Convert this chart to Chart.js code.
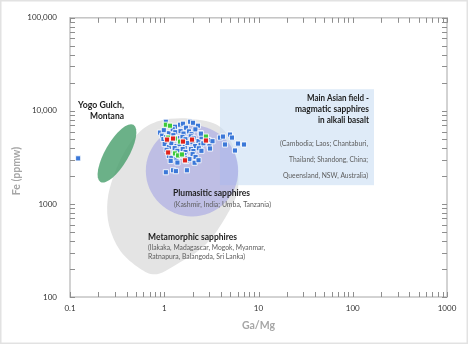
<!DOCTYPE html>
<html>
<head>
<meta charset="utf-8">
<script src="https://cdn.jsdelivr.net/npm/chart.js@4.4.0/dist/chart.umd.min.js"></script>
<style>
  html, body { margin: 0; padding: 0; background: #fff; }
  canvas { display: block; }
</style>
</head>
<body>
<canvas id="sapphireChart" width="468" height="344"></canvas>
<script>
// Sapphire samples: Ga/Mg ratio vs Fe (ppmw)
const blueGaMg = [1.04, 1.47, 1.58, 1.88, 2.02, 2.28, 1.30, 1.70,
    0.90, 0.95, 0.99, 1.12, 1.23, 1.31, 1.49, 1.60, 1.83, 1.95, 2.14, 2.42,
    0.98, 1.05, 1.17, 1.25, 1.38, 1.56, 1.68, 1.91, 2.05, 2.31, 2.49, 2.95,
    1.01, 1.12, 1.19, 1.35, 1.45, 1.65, 1.76, 1.99, 2.13, 2.43, 2.60, 3.02, 3.25,
    1.06, 1.13, 1.29, 1.38, 1.57, 1.68, 1.92, 2.04, 2.33, 2.48,
    1.12, 1.19, 1.35, 1.45, 1.64, 1.77, 2.00, 2.15,
    1.17, 1.38, 1.72, 1.85, 2.10, 2.31,
    1.04, 1.24, 1.33, 1.74,
    3.90, 4.20, 4.98, 5.23, 6.06, 7.02, 4.41, 5.63, 2.45, 3.06,
    0.122];
const blueFe = [7640, 7100, 7280, 7640, 7450, 6930, 6760, 6590,
    5840, 5420, 6200, 5750, 6350, 5900, 6050, 5700, 6020, 5620, 6330, 5780,
    4980, 5230, 4760, 5480, 5100, 5250, 4960, 5330, 5080, 4740, 5210, 4870,
    4400, 4080, 4500, 4200, 4380, 4100, 4520, 4600, 4190, 4320, 4480, 4200, 4720,
    3810, 3620, 3980, 3720, 3890, 3620, 3880, 3700, 3960, 3720,
    3280, 3130, 3060, 3270, 3350, 3120, 3430, 3200,
    2900, 2780, 2890, 3030, 2770, 2950,
    2190, 2300, 2250, 2300,
    5160, 5290, 5560, 5160, 4450, 4350, 4350, 3750, 5690, 3940,
    3090];
const redGaMg = [1.07, 1.24, 1.10, 1.66, 1.97, 2.77, 1.58];
const redFe = [4910, 5040, 3570, 2940, 4910, 4800, 4680];
const greenGaMg = [1.04, 1.15, 1.10, 1.30, 1.47, 1.30, 1.40, 1.54, 2.77];
const greenFe = [7100, 6930, 5160, 5040, 4680, 3490, 3320, 3400, 5290];

const xTickValues = [0.1, 1, 10, 100, 1000];
const xTickLabels = ['0.1', '1', '10', '100', '1000'];
const yTickValues = [100, 1000, 10000, 100000];
const yTickLabels = ['100', '1000', '10,000', '100,000'];

// Fields, given in data units (Ga/Mg, Fe)
const metamorphicOutline = [[5.6, 3660], [6.1, 1550], [5.2, 950], [3.46, 480], [2.39, 324],
    [1.47, 236], [0.84, 176], [0.55, 203], [0.34, 316], [0.26, 583], [0.25, 1080],
    [0.29, 1990], [0.38, 3660], [0.55, 5980], [0.9, 7830], [1.88, 8220], [3.9, 6760]];
const yogoField = { gaMg: 0.315, fe: 3490, major: 0.35, minor: 0.125, tilt: 60 };
const plumasiticField = { gaMg: 1.97, fe: 2270, radius: 0.49 };
const asianField = { fromGaMg: 3.9, toGaMg: 168, fromFe: 1590, toFe: 17100 };

const FONT = 'Lato, "Open Sans", sans-serif';

// Text notes, canvas pixels
const fieldNotes = [
    { text: 'Yogo Gulch,', x: 124, y: 105, align: 'right', bold: true, w: 46 },
    { text: 'Montana', x: 124, y: 116, align: 'right', bold: true, w: 34 },
    { text: 'Main Asian field -', x: 369, y: 98, align: 'right', bold: true, w: 62 },
    { text: 'magmatic sapphires', x: 369, y: 109, align: 'right', bold: true, w: 74 },
    { text: 'in alkali basalt', x: 369, y: 120, align: 'right', bold: true, w: 51 },
    { text: '(Cambodia; Laos; Chantaburi,', x: 368, y: 144, align: 'right', bold: false, w: 88 },
    { text: 'Thailand; Shandong, China;', x: 368, y: 159.5, align: 'right', bold: false, w: 79 },
    { text: 'Queensland, NSW, Australia)', x: 368, y: 175.5, align: 'right', bold: false, w: 85 },
    { text: 'Plumasitic sapphires', x: 173, y: 193.5, align: 'left', bold: true, w: 77 },
    { text: '(Kashmir, India; Umba, Tanzania)', x: 174, y: 204.5, align: 'left', bold: false, w: 97 },
    { text: 'Metamorphic sapphires', x: 148, y: 237, align: 'left', bold: true, w: 89 },
    { text: '(Ilakaka, Madagascar, Mogok, Myanmar,', x: 148, y: 247.5, align: 'left', bold: false, w: 117 },
    { text: 'Ratnapura, Balangoda, Sri Lanka)', x: 148, y: 256.5, align: 'left', bold: false, w: 97 }
];

function toPoints(xs, ys) {
    return xs.map((x, i) => ({ x: x, y: ys[i] }));
}

function smoothClosedPath(ctx, pts) {
    const n = pts.length;
    ctx.moveTo(pts[0][0], pts[0][1]);
    for (let i = 0; i < n; i++) {
        const p0 = pts[(i - 1 + n) % n], p1 = pts[i], p2 = pts[(i + 1) % n], p3 = pts[(i + 2) % n];
        ctx.bezierCurveTo(
            p1[0] + (p2[0] - p0[0]) / 6, p1[1] + (p2[1] - p0[1]) / 6,
            p2[0] - (p3[0] - p1[0]) / 6, p2[1] - (p3[1] - p1[1]) / 6,
            p2[0], p2[1]);
    }
    ctx.closePath();
}

const fieldsPlugin = {
    id: 'fields',
    beforeDraw(chart) {
        const ctx = chart.ctx;
        ctx.save();
        ctx.fillStyle = '#fff';
        ctx.fillRect(0, 0, chart.width, chart.height);
        ctx.strokeStyle = '#e2e2e2';
        ctx.lineWidth = 1.5;
        ctx.strokeRect(0.75, 0.75, chart.width - 1.5, chart.height - 1.5);
        ctx.restore();
    },
    beforeDatasetsDraw(chart) {
        const { ctx, scales: { x, y } } = chart;
        ctx.save();

        // metamorphic field
        const outline = metamorphicOutline.map(p => [x.getPixelForValue(p[0]), y.getPixelForValue(p[1])]);
        ctx.beginPath();
        smoothClosedPath(ctx, outline);
        ctx.fillStyle = '#e4e4e4';
        ctx.fill();

        // main Asian field
        const rx1 = x.getPixelForValue(asianField.fromGaMg), rx2 = x.getPixelForValue(asianField.toGaMg);
        const ry1 = y.getPixelForValue(asianField.toFe), ry2 = y.getPixelForValue(asianField.fromFe);
        ctx.fillStyle = 'rgba(200,220,243,0.58)';
        ctx.fillRect(rx1, ry1, rx2 - rx1, ry2 - ry1);

        // plumasitic field
        const pcx = x.getPixelForValue(plumasiticField.gaMg);
        const pcy = y.getPixelForValue(plumasiticField.fe);
        const prx = x.getPixelForValue(plumasiticField.gaMg * Math.pow(10, plumasiticField.radius)) - pcx;
        const pry = pcy - y.getPixelForValue(plumasiticField.fe * Math.pow(10, plumasiticField.radius));
        ctx.beginPath();
        ctx.ellipse(pcx, pcy, prx, pry, 0, 0, Math.PI * 2);
        ctx.fillStyle = 'rgba(132,132,228,0.4)';
        ctx.fill();

        // Yogo Gulch field
        const gcx = x.getPixelForValue(yogoField.gaMg);
        const gcy = y.getPixelForValue(yogoField.fe);
        const perDecade = x.getPixelForValue(10) - x.getPixelForValue(1);
        ctx.beginPath();
        ctx.ellipse(gcx, gcy, yogoField.major * perDecade, yogoField.minor * perDecade,
            -yogoField.tilt * Math.PI / 180, 0, Math.PI * 2);
        ctx.fillStyle = 'rgba(74,160,110,0.82)';
        ctx.fill();

        ctx.restore();
    },
    afterDatasetsDraw(chart) {
        const { ctx, chartArea: a, scales: { x, y } } = chart;
        ctx.save();

        // frame
        ctx.strokeStyle = '#c4c4c4';
        ctx.lineWidth = 1.5;
        ctx.strokeRect(a.left, a.top, a.right - a.left, a.bottom - a.top);

        // inward ticks on all four sides (1..9 in each decade), as small filled bars
        ctx.fillStyle = '#8e8e8e';
        [0.1, 1, 10, 100].forEach(d => {
            for (let k = 1; k <= 10; k++) {
                const px = Math.round(x.getPixelForValue(d * k));
                ctx.fillRect(px, a.bottom - 5, 1, 5);
                ctx.fillRect(px, a.top, 1, 5);
            }
        });
        [100, 1000, 10000].forEach(d => {
            for (let k = 1; k <= 10; k++) {
                const py = Math.round(y.getPixelForValue(d * k));
                ctx.fillRect(a.left, py, 5, 1);
                ctx.fillRect(a.right - 5, py, 5, 1);
            }
        });

        // notes
        ctx.textBaseline = 'middle';
        fieldNotes.forEach(n => {
            ctx.font = (n.bold ? 'bold 9px ' : '7px ') + FONT;
            ctx.fillStyle = n.bold ? '#1e1e1e' : '#5c5c5c';
            ctx.textAlign = n.align;
            ctx.fillText(n.text, n.x, n.y, n.w);
        });

        // y axis title
        ctx.translate(17, 171);
        ctx.rotate(-Math.PI / 2);
        ctx.textAlign = 'center';
        ctx.font = 'bold 10.5px ' + FONT;
        ctx.fillStyle = '#a6a6a6';
        ctx.fillText('Fe (ppmw)', 0, 0);
        ctx.restore();
    }
};

const squareStyle = { pointStyle: 'rect', pointRadius: 3.6, borderWidth: 1, borderColor: 'rgba(255,255,255,0.85)' };

new Chart(document.getElementById('sapphireChart'), {
    type: 'scatter',
    data: {
        datasets: [
            Object.assign({ label: 'Red', data: toPoints(redGaMg, redFe), backgroundColor: '#e0231c' }, squareStyle),
            Object.assign({ label: 'Green', data: toPoints(greenGaMg, greenFe), backgroundColor: '#3cc93a' }, squareStyle),
            Object.assign({ label: 'Blue', data: toPoints(blueGaMg, blueFe), backgroundColor: '#3b78d8' }, squareStyle)
        ]
    },
    options: {
        responsive: false,
        animation: false,
        layout: { padding: { top: 15, right: 21, left: 0, bottom: 0 } },
        plugins: { legend: { display: false }, tooltip: { enabled: false } },
        scales: {
            x: {
                type: 'logarithmic',
                min: 0.1,
                max: 1000,
                grid: { display: false, drawTicks: false },
                border: { display: false },
                afterBuildTicks: s => { s.ticks = xTickValues.map(v => ({ value: v })); },
                afterFit: s => { s.height = 47; },
                ticks: {
                    autoSkip: false,
                    maxRotation: 0,
                    padding: 7,
                    color: '#333',
                    font: { family: FONT, size: 8 },
                    callback: v => xTickLabels[xTickValues.indexOf(v)]
                },
                title: {
                    display: true,
                    text: 'Ga/Mg',
                    color: '#a6a6a6',
                    font: { family: FONT, size: 10.5, weight: 'bold' },
                    padding: { top: 0, bottom: 12 }
                }
            },
            y: {
                type: 'logarithmic',
                min: 100,
                max: 100000,
                grid: { display: false, drawTicks: false },
                border: { display: false },
                afterBuildTicks: s => { s.ticks = yTickValues.map(v => ({ value: v })); },
                afterFit: s => { s.width = 70; },
                ticks: {
                    autoSkip: false,
                    padding: 13,
                    color: '#333',
                    font: { family: FONT, size: 8 },
                    callback: v => yTickLabels[yTickValues.indexOf(v)]
                }
            }
        }
    },
    plugins: [fieldsPlugin]
});
</script>
</body>
</html>
